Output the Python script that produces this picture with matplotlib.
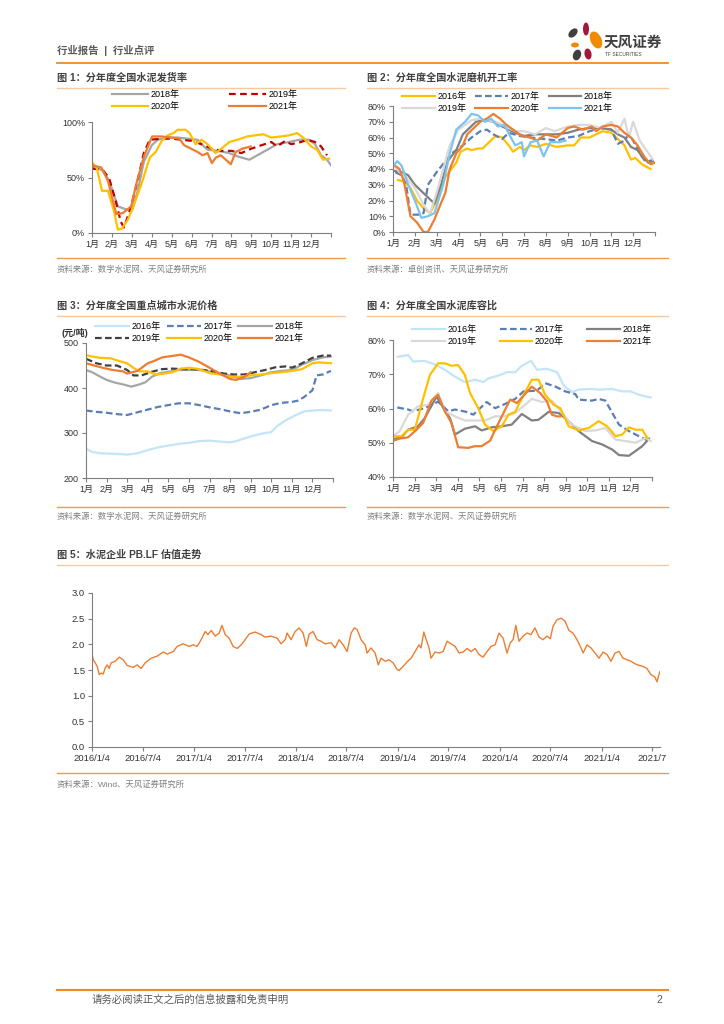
import numpy as np
import pandas as pd
import matplotlib
matplotlib.use('Agg')
import matplotlib.pyplot as plt
from matplotlib.patches import Ellipse

plt.rcParams['font.family'] = ['Liberation Sans', 'Noto Sans CJK SC']
plt.rcParams['axes.unicode_minus'] = False

# ---------------- 数据 ----------------
meses = ['1月', '2月', '3月', '4月', '5月', '6月', '7月', '8月', '9月', '10月', '11月', '12月']

# 图1 发货率 (%)
fh18_x = [0, 0.6, 0.9, 1.3, 1.6, 2.0, 2.3, 2.6, 3.0, 3.3, 3.8, 4.3, 4.8, 5.3, 5.5, 5.8, 6.3, 6.9, 7.3, 7.9, 8.3, 8.9, 9.3, 9.9, 10.4, 10.9, 11.2, 11.5, 11.8, 12.0]
fh18_y = [60, 56, 45, 24, 22, 20, 38, 64, 79, 84, 86, 86, 85, 84, 80, 75, 74, 72, 69, 66, 70, 76, 80, 82, 84, 84, 80, 70, 66, 61]
fh19_x = [0, 0.5, 0.85, 1.2, 1.45, 1.6, 1.9, 2.3, 2.6, 2.9, 3.5, 4.0, 4.5, 5.0, 5.5, 6.0, 6.5, 7.0, 7.5, 8.0, 8.5, 9.0, 9.3, 9.7, 10.0, 10.5, 10.8, 11.2, 11.5, 11.8]
fh19_y = [58, 57, 50, 28, 10, 5, 20, 48, 72, 84, 85, 85, 84, 83, 80, 76, 74, 74, 72, 76, 79, 82, 78, 83, 80, 82, 84, 82, 78, 70]
fh20_x = [0, 0.25, 0.5, 0.8, 1.1, 1.3, 1.5, 1.8, 2.1, 2.5, 2.9, 3.2, 3.5, 3.8, 4.1, 4.3, 4.7, 4.9, 5.2, 5.5, 5.8, 6.2, 6.5, 6.9, 7.3, 7.8, 8.2, 8.6, 9.0, 9.5, 9.9, 10.3, 10.6, 11.0, 11.3, 11.6, 11.9]
fh20_y = [64, 58, 38, 38, 20, 3, 4, 12, 25, 45, 68, 73, 83, 88, 90, 93, 93, 90, 80, 84, 80, 72, 76, 82, 84, 87, 88, 89, 86, 87, 88, 90, 86, 78, 75, 66, 67]
fh21_x = [0, 0.47, 0.8, 1.22, 1.55, 1.97, 2.22, 2.63, 3.02, 3.47, 3.97, 4.38, 4.63, 4.97, 5.3, 5.55, 5.8, 6.02, 6.22, 6.47, 6.72, 6.97, 7.22, 7.55, 7.97]
fh21_y = [61, 59, 47, 17, 18, 24, 44, 70, 87, 87, 86, 85, 79, 76, 73, 70, 72, 63, 68, 70, 66, 62, 73, 76, 78]

# 图2 磨机开工率 (%)
ky16_x = [0.23, 0.5, 0.8, 1.1, 1.4, 1.7, 2.0, 2.4, 2.9, 3.1, 3.4, 3.6, 3.9, 4.1, 4.4, 4.7, 5.0, 5.3, 5.5, 5.8, 6.0, 6.3, 6.6, 7.0, 7.5, 8.0, 8.3, 8.6, 9.0, 9.3, 9.6, 10.0, 10.3, 10.6, 10.9, 11.1, 11.4, 11.8]
ky16_y = [33, 32, 28, 20, 15, 12, 20, 35, 44, 51, 53, 52, 53, 53, 57, 61, 60, 55, 51, 54, 52, 55, 54, 56, 54, 55, 55, 60, 60, 62, 64, 63, 59, 55, 46, 47, 43, 40]
ky17_x = [0.1, 0.4, 0.6, 0.8, 1.2, 1.4, 1.6, 2.0, 2.4, 2.7, 3.2, 3.6, 4.0, 4.3, 4.6, 5.0, 5.3, 5.8, 6.3, 7.0, 7.5, 8.0, 8.5, 9.0, 9.5, 10.0, 10.3, 10.6, 10.8, 11.0, 11.3, 11.6, 11.9]
ky17_y = [38, 36, 30, 11, 11, 12, 30, 38, 45, 50, 55, 60, 64, 65, 62, 59, 63, 61, 60, 59, 58, 60, 61, 64, 66, 65, 56, 58, 62, 58, 50, 44, 46]
ky18_x = [0, 0.4, 0.7, 1.0, 1.3, 1.6, 1.9, 2.2, 2.5, 2.9, 3.2, 3.5, 3.8, 4.2, 4.6, 5.0, 5.3, 5.6, 6.0, 6.5, 7.0, 7.5, 8.0, 8.5, 9.0, 9.5, 10.0, 10.3, 10.6, 10.9, 11.2, 11.4, 11.7, 11.9]
ky18_y = [39, 38, 36, 30, 26, 22, 18, 30, 45, 52, 62, 66, 70, 71, 70, 67, 65, 63, 61, 62, 62, 62, 63, 65, 66, 66, 65, 62, 60, 54, 52, 48, 44, 45]
ky19_x = [0, 0.3, 0.6, 1.0, 1.3, 1.5, 1.7, 2.0, 2.3, 2.6, 3.0, 3.3, 3.6, 4.0, 4.3, 4.7, 5.0, 5.3, 5.6, 6.0, 6.5, 7.0, 7.4, 8.0, 8.5, 9.0, 9.5, 10.0, 10.3, 10.6, 10.8, 11.0, 11.3, 11.6, 11.9]
ky19_y = [43, 38, 35, 28, 20, 15, 12, 25, 40, 55, 65, 68, 71, 72, 71, 70, 68, 66, 64, 64, 62, 66, 64, 67, 68, 68, 66, 70, 63, 72, 60, 70, 58, 52, 46]
ky20_x = [0, 0.3, 0.5, 0.8, 1.1, 1.4, 1.6, 1.9, 2.1, 2.4, 2.6, 2.9, 3.2, 3.4, 3.7, 4.0, 4.3, 4.6, 4.9, 5.2, 5.5, 5.9, 6.3, 6.6, 7.0, 7.5, 8.0, 8.3, 8.7, 9.1, 9.3, 9.6, 10.0, 10.3, 10.6, 10.9, 11.2, 11.5, 11.8, 12.0]
ky20_y = [43, 40, 32, 10, 6, 0, 0, 8, 15, 25, 40, 50, 55, 62, 66, 70, 72, 75, 72, 68, 65, 61, 60, 58, 62, 60, 66, 67, 65, 67, 64, 67, 68, 67, 63, 60, 55, 48, 43, 44]
ky21_x = [0, 0.2, 0.4, 0.7, 1.0, 1.3, 1.6, 1.9, 2.3, 2.6, 2.9, 3.3, 3.6, 3.9, 4.2, 4.5, 4.8, 5.1, 5.4, 5.6, 5.9, 6.0, 6.3, 6.6, 6.9, 7.2, 7.6, 7.9]
ky21_y = [42, 45, 42, 30, 20, 9, 10, 12, 30, 50, 65, 70, 75, 74, 70, 72, 67, 68, 60, 55, 57, 48, 57, 58, 48, 57, 57, 58]

# 图3 重点城市水泥价格 (元/吨)
jg16_x = [0, 0.3, 0.7, 1.2, 1.7, 2.0, 2.5, 3.0, 3.5, 4.0, 4.5, 5.0, 5.5, 6.0, 6.5, 7.0, 7.3, 7.7, 8.2, 8.7, 9.0, 9.3, 9.7, 10.2, 10.6, 11.0, 11.5, 11.9]
jg16_y = [265, 258, 255, 254, 253, 252, 255, 262, 268, 272, 276, 278, 282, 283, 281, 279, 282, 288, 295, 300, 302, 316, 328, 340, 348, 350, 351, 350]
jg17_x = [0, 0.5, 1.0, 1.5, 2.0, 2.5, 3.0, 3.5, 4.0, 4.5, 5.0, 5.5, 6.0, 6.5, 7.0, 7.5, 8.0, 8.5, 9.0, 9.5, 10.0, 10.3, 10.6, 11.0, 11.2, 11.5, 11.9]
jg17_y = [350, 347, 345, 342, 340, 346, 352, 358, 362, 366, 366, 362, 357, 353, 348, 344, 347, 352, 362, 367, 369, 372, 380, 395, 428, 430, 438]
jg18_x = [0, 0.3, 0.7, 1.0, 1.4, 1.8, 2.2, 2.6, 2.9, 3.2, 3.6, 4.0, 4.5, 5.0, 5.5, 6.0, 6.5, 7.0, 7.5, 8.0, 8.5, 9.0, 9.5, 10.0, 10.5, 11.0, 11.5, 11.9]
jg18_y = [440, 435, 425, 418, 412, 408, 403, 408, 413, 425, 433, 436, 440, 440, 440, 437, 432, 428, 420, 422, 428, 435, 438, 440, 452, 462, 468, 470]
jg19_x = [0, 0.5, 1.0, 1.5, 2.0, 2.3, 2.7, 3.2, 3.7, 4.2, 4.7, 5.2, 5.7, 6.2, 6.7, 7.2, 7.7, 8.2, 8.7, 9.2, 9.7, 10.0, 10.5, 11.0, 11.5, 11.9]
jg19_y = [465, 455, 450, 450, 440, 428, 428, 436, 442, 443, 442, 442, 440, 437, 432, 430, 430, 435, 440, 446, 448, 445, 455, 467, 472, 472]
jg20_x = [0, 0.3, 0.7, 1.2, 1.6, 2.0, 2.3, 2.6, 3.0, 3.4, 3.8, 4.2, 4.6, 5.0, 5.5, 6.0, 6.5, 7.0, 7.5, 8.0, 8.5, 9.0, 9.5, 10.0, 10.5, 11.0, 11.3, 11.9]
jg20_y = [473, 470, 467, 466, 460, 455, 445, 437, 437, 430, 432, 435, 443, 445, 442, 433, 430, 425, 425, 428, 430, 433, 435, 438, 442, 455, 457, 455]
jg21_x = [0, 0.4, 0.8, 1.3, 1.8, 2.0, 2.5, 3.0, 3.3, 3.7, 4.0, 4.3, 4.6, 5.0, 5.5, 6.0, 6.5, 7.0, 7.3, 7.7, 8.0]
jg21_y = [455, 450, 445, 440, 437, 432, 438, 455, 460, 468, 470, 472, 474, 468, 458, 445, 432, 420, 418, 425, 435]

# 图4 库容比 (%)
kr16_x = [0.23, 0.7, 0.93, 1.47, 2.02, 2.4, 2.87, 3.33, 3.8, 4.19, 4.42, 4.88, 5.27, 5.66, 5.97, 6.4, 6.67, 7.13, 7.6, 7.91, 8.29, 8.6, 9.22, 9.53, 10.16, 10.62, 11.0, 11.4, 11.94]
kr16_y = [75.1, 75.6, 73.7, 73.9, 72.7, 71.3, 69.3, 67.7, 68.4, 67.7, 68.8, 69.6, 70.6, 70.6, 72.5, 73.9, 71.3, 71.6, 70.6, 66.7, 64.8, 65.5, 65.7, 65.5, 65.7, 65, 65, 64, 63.2]
kr17_x = [0.2, 0.7, 0.93, 1.47, 2.09, 2.56, 2.87, 3.41, 3.72, 4.34, 4.73, 5.19, 5.66, 6.05, 6.67, 7.05, 7.52, 7.98, 8.45, 8.6, 9.22, 9.53, 9.84, 10.16, 10.47, 10.93, 11.4, 11.86]
kr17_y = [60.3, 59.7, 59.2, 60.1, 62, 59.2, 59.7, 59, 58.2, 61.9, 60.1, 61.3, 62.8, 65, 65.2, 67.4, 66.4, 65, 64.2, 62.6, 62.3, 62.8, 62.3, 58.7, 55.3, 53.4, 51.9, 50.5]
kr18_x = [0, 0.39, 0.7, 1.16, 1.47, 2.02, 2.33, 2.64, 2.87, 3.33, 3.8, 4.11, 4.57, 5.04, 5.5, 5.97, 6.43, 6.74, 7.21, 7.67, 8.14, 8.6, 9.22, 9.69, 10.16, 10.47, 10.93, 11.24, 11.55, 11.86]
kr18_y = [51, 51.6, 53.8, 54.8, 57.2, 63.5, 60.1, 57.2, 52.4, 54.1, 54.8, 53.6, 54.5, 54.8, 55.3, 58.4, 56.5, 56.7, 59, 58.7, 56.3, 53.4, 50.5, 49.5, 48, 46.4, 46.2, 47.6, 49, 51.2]
kr19_x = [0, 0.31, 0.7, 1.16, 1.63, 2.09, 2.4, 2.87, 3.33, 3.8, 4.26, 4.73, 5.19, 5.66, 6.12, 6.43, 6.9, 7.36, 7.83, 8.29, 8.91, 9.38, 9.84, 10.31, 10.78, 11.24, 11.71, 11.94]
kr19_y = [51.9, 53.4, 58.2, 60.6, 61.1, 64.5, 59.2, 57.7, 56.5, 56.5, 56.5, 57.7, 57.7, 58.7, 61.1, 62.8, 61.9, 62.3, 58.7, 55.3, 53.4, 53.6, 54.3, 50.9, 50.5, 50, 51.4, 50.5]
kr20_x = [0, 0.39, 0.7, 1.01, 1.4, 1.71, 2.09, 2.4, 2.71, 3.02, 3.33, 3.57, 3.95, 4.26, 4.65, 5.04, 5.35, 5.66, 5.97, 6.43, 6.74, 7.05, 7.44, 7.75, 8.14, 8.6, 9.07, 9.53, 9.92, 10.31, 10.62, 10.93, 11.24, 11.55, 11.78]
kr20_y = [51.9, 51.9, 53.8, 53.8, 63, 69.8, 73.2, 73.2, 72.5, 72.7, 69.8, 64.5, 60.1, 55.3, 53.4, 54.8, 58.2, 59, 63, 68.4, 68.4, 64, 61.1, 60.1, 54.8, 53.6, 54.3, 56.3, 54.8, 51.9, 52.4, 54.5, 53.8, 53.8, 51.4]
kr21_x = [0, 0.31, 0.7, 1.09, 1.4, 1.78, 2.09, 2.4, 2.71, 3.02, 3.49, 3.8, 4.11, 4.5, 4.81, 5.12, 5.43, 5.74, 6.12, 6.43, 6.82, 7.13, 7.36, 7.6, 7.75]
kr21_y = [50.6, 51.2, 51.6, 53.8, 55.8, 62.3, 64, 59.2, 55.8, 48.7, 48.5, 49, 49, 50.6, 54.8, 58.7, 62.6, 61.6, 64.2, 66.4, 64.5, 62.1, 58.2, 57.7, 57.7]

# 图5 PB.LF (时间以年计)
pb_t = [2016.000, 2016.012, 2016.031, 2016.051, 2016.071, 2016.090, 2016.110, 2016.130, 2016.149, 2016.169,
        2016.188, 2016.228, 2016.267, 2016.306, 2016.345, 2016.404, 2016.443, 2016.483, 2016.522, 2016.581,
        2016.640, 2016.699, 2016.738, 2016.797, 2016.836, 2016.895, 2016.954, 2016.993, 2017.032, 2017.071,
        2017.111, 2017.138, 2017.170, 2017.209, 2017.248, 2017.276, 2017.307, 2017.346, 2017.385, 2017.425,
        2017.464, 2017.503, 2017.542, 2017.601, 2017.660, 2017.699, 2017.758, 2017.817, 2017.856, 2017.896,
        2017.915, 2017.954, 2017.994, 2018.033, 2018.072, 2018.104, 2018.131, 2018.170, 2018.210, 2018.249,
        2018.288, 2018.347, 2018.386, 2018.425, 2018.465, 2018.504, 2018.543, 2018.575, 2018.602, 2018.641,
        2018.681, 2018.700, 2018.739, 2018.779, 2018.810, 2018.838, 2018.877, 2018.916, 2018.955, 2018.995,
        2019.014, 2019.053, 2019.093, 2019.132, 2019.171, 2019.210, 2019.230, 2019.257, 2019.281, 2019.308,
        2019.328, 2019.367, 2019.407, 2019.446, 2019.485, 2019.524, 2019.564, 2019.603, 2019.642, 2019.681,
        2019.721, 2019.760, 2019.799, 2019.838, 2019.878, 2019.917, 2019.956, 2019.995, 2020.035, 2020.074,
        2020.105, 2020.133, 2020.160, 2020.191, 2020.231, 2020.270, 2020.309, 2020.348, 2020.388, 2020.427,
        2020.466, 2020.498, 2020.525, 2020.564, 2020.604, 2020.643, 2020.682, 2020.721, 2020.761, 2020.800,
        2020.820, 2020.859, 2020.898, 2020.937, 2020.976, 2021.016, 2021.055, 2021.094, 2021.133, 2021.173,
        2021.212, 2021.251, 2021.290, 2021.330, 2021.369, 2021.408, 2021.447, 2021.486, 2021.526, 2021.545,
        2021.560, 2021.575]
pb_v = [1.83, 1.70, 1.64, 1.57, 1.41, 1.44, 1.42, 1.54, 1.60, 1.53,
        1.64, 1.67, 1.75, 1.70, 1.59, 1.55, 1.60, 1.53, 1.64, 1.73,
        1.77, 1.85, 1.81, 1.86, 1.96, 2.01, 1.96, 1.99, 1.96, 2.09,
        2.25, 2.19, 2.27, 2.16, 2.22, 2.37, 2.19, 2.12, 1.96, 1.92,
        1.99, 2.09, 2.20, 2.24, 2.19, 2.14, 2.16, 2.12, 2.01, 2.09,
        2.22, 2.09, 2.25, 2.32, 2.22, 1.96, 2.20, 2.25, 2.09, 2.06,
        2.01, 2.03, 1.93, 2.09, 1.99, 1.86, 2.22, 2.32, 2.29, 2.09,
        1.99, 1.83, 1.93, 1.83, 1.60, 1.73, 1.67, 1.70, 1.64, 1.51,
        1.49, 1.57, 1.66, 1.73, 1.86, 1.99, 1.93, 2.24, 2.09, 1.93,
        1.73, 1.85, 1.83, 1.86, 2.06, 2.01, 1.96, 1.83, 1.85, 1.92,
        1.86, 1.92, 1.80, 1.75, 1.86, 1.96, 1.99, 2.22, 2.12, 1.83,
        2.03, 2.09, 2.37, 2.06, 2.16, 2.22, 2.19, 2.32, 2.14, 2.09,
        2.16, 2.11, 2.35, 2.48, 2.51, 2.45, 2.27, 2.22, 2.09, 1.93,
        1.83, 1.99, 1.93, 1.83, 1.73, 1.85, 1.80, 1.67, 1.83, 1.86,
        1.73, 1.70, 1.67, 1.62, 1.59, 1.57, 1.53, 1.41, 1.36, 1.27,
        1.38, 1.47]
pb_ticks = ['2016/1/4', '2016/7/4', '2017/1/4', '2017/7/4', '2018/1/4', '2018/7/4',
            '2019/1/4', '2019/7/4', '2020/1/4', '2020/7/4', '2021/1/4', '2021/7/4']

# ---------------- 颜色 ----------------
NARANJA = '#ED7D31'
AMARILLO = '#FFC000'
ROJO = '#C00000'
GRIS = '#A6A6A6'
GRIS_OSC = '#808080'
GRIS_CLA = '#D9D9D9'
AZUL = '#5B7EB5'
CELESTE = '#7CC4F0'
CELESTE_CLA = '#C2E5F7'
LINEA = '#F08A24'

W, H = 724, 1024
fig = plt.figure(figsize=(W / 100, H / 100), dpi=100)


def caja(x0, y0, x1, y1):
    # rectangulo en pixeles -> coordenadas de figura
    return [x0 / W, 1 - y1 / H, (x1 - x0) / W, (y1 - y0) / H]


def estilo(ax):
    for s in ['top', 'right']:
        ax.spines[s].set_visible(False)
    for s in ['left', 'bottom']:
        ax.spines[s].set_color('#7F7F7F')
        ax.spines[s].set_linewidth(0.8)
    ax.tick_params(length=3, width=0.8, color='#7F7F7F', labelsize=6.5,
                   pad=2, labelcolor='#333333')


def ejes_mes(ax):
    ax.set_xlim(0, 12)
    ax.set_xticks(range(13))
    ax.set_xticklabels(meses + [''])


def leyenda(ax, lineas, x, y, ncol, hl, cs):
    ax.legend(lineas, [l.get_label() for l in lineas], loc='upper left',
              bbox_to_anchor=(x / W, 1 - y / H), bbox_transform=fig.transFigure,
              ncol=ncol, frameon=False, fontsize=6.5, handlelength=hl,
              columnspacing=cs, labelspacing=0.3, handletextpad=0.3,
              borderaxespad=0, borderpad=0)


lw = 1.6

# ---- 图1 ----
ax1 = fig.add_axes(caja(92, 122, 331, 233))
l18, = ax1.plot(fh18_x, fh18_y, color=GRIS, lw=lw, label='2018年')
l19, = ax1.plot(fh19_x, fh19_y, color=ROJO, lw=lw, dashes=(3, 2), label='2019年')
l20, = ax1.plot(fh20_x, fh20_y, color=AMARILLO, lw=lw, label='2020年')
l21, = ax1.plot(fh21_x, fh21_y, color=NARANJA, lw=lw, label='2021年')
ax1.set_ylim(0, 100)
ax1.set_yticks([0, 50, 100])
ax1.set_yticklabels(['0%', '50%', '100%'])
ejes_mes(ax1)
estilo(ax1)
leyenda(ax1, [l18, l20, l19, l21], 112, 90, 2, 4.0, 5.5)

# ---- 图2 ----
ax2 = fig.add_axes(caja(393, 106, 655, 232))
a, = ax2.plot(ky16_x, ky16_y, color=AMARILLO, lw=lw, label='2016年')
b, = ax2.plot(ky17_x, ky17_y, color=AZUL, lw=lw, dashes=(3, 1.5), label='2017年')
c, = ax2.plot(ky18_x, ky18_y, color=GRIS_OSC, lw=lw, label='2018年')
d, = ax2.plot(ky19_x, ky19_y, color=GRIS_CLA, lw=lw, label='2019年')
e, = ax2.plot(ky20_x, ky20_y, color=NARANJA, lw=lw, label='2020年')
f, = ax2.plot(ky21_x, ky21_y, color=CELESTE, lw=lw, label='2021年')
ax2.set_ylim(0, 80)
ax2.set_yticks(range(0, 81, 10))
ax2.set_yticklabels([f'{v}%' for v in range(0, 81, 10)])
ejes_mes(ax2)
estilo(ax2)
leyenda(ax2, [a, d, b, e, c, f], 402, 92, 3, 3.6, 1.0)

# ---- 图3 ----
ax3 = fig.add_axes(caja(86, 343, 333, 478))
a, = ax3.plot(jg16_x, jg16_y, color=CELESTE_CLA, lw=lw, label='2016年')
b, = ax3.plot(jg17_x, jg17_y, color=AZUL, lw=lw, dashes=(3, 1.5), label='2017年')
c, = ax3.plot(jg18_x, jg18_y, color=GRIS, lw=lw, label='2018年')
d, = ax3.plot(jg19_x, jg19_y, color='#404040', lw=lw, dashes=(3, 1.5), label='2019年')
e, = ax3.plot(jg20_x, jg20_y, color=AMARILLO, lw=lw, label='2020年')
f, = ax3.plot(jg21_x, jg21_y, color=NARANJA, lw=lw, label='2021年')
ax3.set_ylim(200, 500)
ax3.set_yticks([200, 300, 400, 500])
ejes_mes(ax3)
estilo(ax3)
leyenda(ax3, [a, d, b, e, c, f], 95, 322, 3, 3.8, 0.6)

# ---- 图4 ----
ax4 = fig.add_axes(caja(393, 340, 652, 477))
a, = ax4.plot(kr16_x, kr16_y, color=CELESTE_CLA, lw=lw, label='2016年')
b, = ax4.plot(kr17_x, kr17_y, color=AZUL, lw=lw, dashes=(3, 1.5), label='2017年')
c, = ax4.plot(kr18_x, kr18_y, color=GRIS_OSC, lw=lw, label='2018年')
d, = ax4.plot(kr19_x, kr19_y, color=GRIS_CLA, lw=lw, label='2019年')
e, = ax4.plot(kr20_x, kr20_y, color=AMARILLO, lw=lw, label='2020年')
f, = ax4.plot(kr21_x, kr21_y, color=NARANJA, lw=lw, label='2021年')
ax4.set_ylim(40, 80)
ax4.set_yticks(range(40, 81, 10))
ax4.set_yticklabels([f'{v}%' for v in range(40, 81, 10)])
ejes_mes(ax4)
estilo(ax4)
leyenda(ax4, [a, d, b, e, c, f], 412, 325, 3, 3.6, 2.6)

# ---- 图5 ----
ax5 = fig.add_axes(caja(92, 593, 660, 747))
inicio = pd.Timestamp('2016-01-04')
pb_fechas = inicio + pd.to_timedelta((np.array(pb_t) - 2016.0) * 365.25, unit='D')
ax5.plot(pb_fechas, pb_v, color=NARANJA, lw=1.0)
tick_fechas = [pd.Timestamp(s.replace('/', '-')) for s in pb_ticks]
ax5.set_xticks(tick_fechas)
ax5.set_xticklabels(pb_ticks[:-1] + ['2021/7'])
ax5.set_xlim(inicio, pb_fechas[-1])
ax5.set_ylim(0, 3)
ax5.set_yticks(np.arange(0, 3.01, 0.5))
ax5.set_yticklabels([f'{v:.1f}' for v in np.arange(0, 3.01, 0.5)])
estilo(ax5)
ax5.tick_params(axis='x', labelsize=6.8)
ax5.tick_params(axis='y', labelsize=6.8)

# ---------------- 页面元素 ----------------
bg = fig.add_axes([0, 0, 1, 1], zorder=-1)
bg.set_xlim(0, W)
bg.set_ylim(H, 0)
bg.axis('off')

txt_gris = '#595959'
bg.text(57, 50, '行业报告  |  行业点评', fontsize=7.5, color=txt_gris, va='center', fontweight='bold')
bg.plot([57, 668], [63, 63], color=LINEA, lw=1.3)

# logo
for (cx, cy, w, h, ang, col) in [(573, 33, 7, 11, 45, '#3F3F3F'), (586, 29, 6, 13, 0, '#A3173A'),
                                  (596, 40, 11, 18, -25, '#F08A00'), (575, 45, 8, 5, 0, '#F08A00'),
                                  (577, 55, 8, 11, 20, '#3F3F3F'), (588, 54, 7, 11, -10, '#A3173A')]:
    bg.add_patch(Ellipse((cx, cy), w, h, angle=ang, color=col, lw=0))
bg.text(604, 42, '天风证券', fontsize=10.5, fontweight='bold', color='#3F3F3F',
        va='center', family=['Noto Sans CJK SC'])
bg.text(605, 55, 'TF SECURITIES', fontsize=3.5, color='#3F3F3F', va='center')

titulos = [(57, 78, '图 1：分年度全国水泥发货率'), (367, 78, '图 2：分年度全国水泥磨机开工率'),
           (57, 306, '图 3：分年度全国重点城市水泥价格'), (367, 306, '图 4：分年度全国水泥库容比'),
           (57, 555, '图 5：水泥企业 PB.LF 估值走势')]
for x, y, t in titulos:
    bg.text(x, y, t, fontsize=7.3, fontweight='bold', color='#404040', va='center')

sub_claro = '#F8C89E'
sub_fuerte = '#F29B4C'
for y in [88, 316]:
    bg.plot([57, 345], [y, y], color=sub_claro, lw=1)
    bg.plot([367, 668], [y, y], color=sub_claro, lw=1)
bg.plot([57, 668], [565, 565], color=sub_claro, lw=1)
for y in [258, 507]:
    bg.plot([57, 345], [y, y], color=sub_fuerte, lw=1)
    bg.plot([367, 668], [y, y], color=sub_fuerte, lw=1)
bg.plot([57, 668], [773, 773], color=sub_fuerte, lw=1)

fuentes = [(57, 270, '资料来源：数字水泥网、天风证券研究所'), (367, 270, '资料来源：卓创资讯、天风证券研究所'),
           (57, 517, '资料来源：数字水泥网、天风证券研究所'), (367, 517, '资料来源：数字水泥网、天风证券研究所'),
           (57, 785, '资料来源：Wind、天风证券研究所')]
for x, y, t in fuentes:
    bg.text(x, y, t, fontsize=6, color='#7F7F7F', va='center')

bg.text(62, 333, '(元/吨)', fontsize=6.5, fontweight='bold', color='#333333', va='center')

bg.plot([57, 668], [990, 990], color=LINEA, lw=1.5)
bg.text(92, 1000, '请务必阅读正文之后的信息披露和免责申明', fontsize=7.5, color=txt_gris, va='center')
bg.text(662, 1000, '2', fontsize=7.5, color=txt_gris, va='center', ha='right')

fig.savefig('out.png', dpi=100)
